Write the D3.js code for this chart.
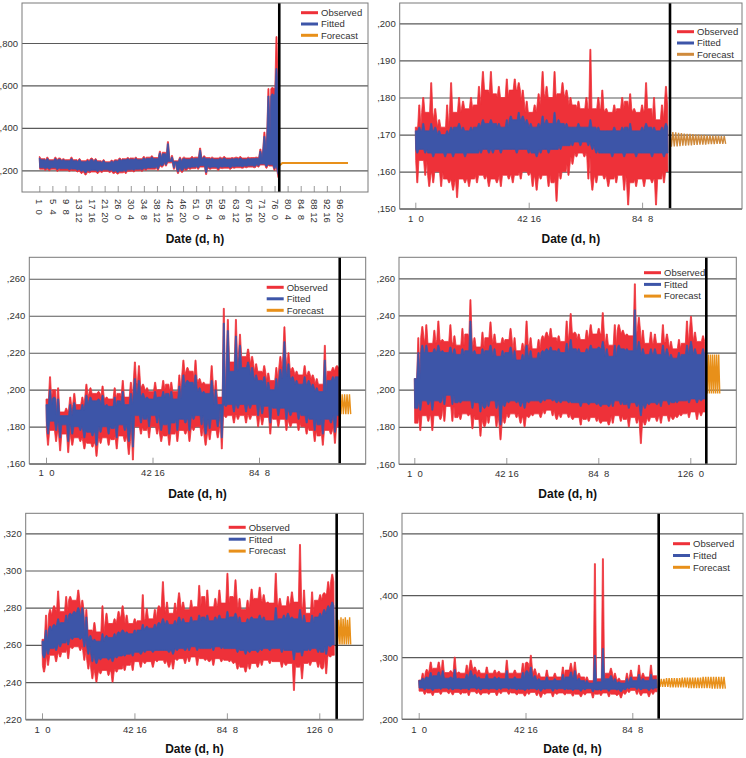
<!DOCTYPE html>
<html><head><meta charset="utf-8">
<script src="https://cdn.jsdelivr.net/npm/d3@7"></script>
<style>
body{margin:0;background:#fff}
svg{display:block}
text{font-family:"Liberation Sans",Arial,sans-serif}
</style>
</head><body>
<svg id="chart" width="746" height="758"></svg>
<script>
// ---------------- DATA ----------------
const seriesNames = ["Observed", "Fitted", "Forecast"];

// Panel 1 (envelope of the hourly series, per bin: high / low)
const p1ObsHi = [.265,.255,.262,.250,.262,.258,.255,.250,.262,.250, .255,.245,.252,.258,.255,.245,.250,.240,.248,.250, .258,.255,.260,.258,.262,.255,.265,.262,.268,.260, .290,.285,.335,.270,.245,.262,.262,.258,.265,.262, .305,.268,.260,.262,.258,.262,.265,.258,.260,.262, .265,.258,.262,.260,.262,.300,.380,.585,.590,.830];
const p1ObsLo = [.205,.200,.198,.205,.195,.200,.200,.195,.198,.192, .185,.178,.188,.192,.185,.190,.195,.190,.185,.182, .188,.185,.195,.192,.198,.195,.200,.205,.205,.200, .215,.220,.235,.205,.185,.190,.200,.205,.208,.205, .215,.180,.205,.208,.200,.208,.210,.205,.210,.212, .210,.212,.215,.212,.215,.225,.210,.220,.200,.165];
const p1FitHi = [.258,.250,.255,.245,.255,.252,.250,.245,.255,.245, .250,.240,.246,.252,.250,.240,.245,.236,.243,.245, .252,.250,.254,.252,.256,.250,.258,.256,.262,.255, .282,.278,.325,.262,.240,.256,.255,.252,.258,.256, .295,.262,.255,.256,.252,.256,.258,.252,.255,.256, .258,.252,.256,.255,.257,.290,.360,.550,.560,.680];
const p1FitLo = [.212,.208,.206,.212,.204,.208,.208,.203,.206,.200, .195,.188,.196,.200,.194,.198,.202,.198,.194,.190, .196,.194,.202,.200,.205,.202,.207,.211,.212,.207, .222,.226,.242,.212,.193,.198,.207,.212,.215,.212, .222,.190,.212,.215,.208,.215,.217,.212,.217,.219, .217,.219,.221,.219,.221,.230,.218,.226,.208,.180];
const p1Fc = [.222,.234,.234,.234,.234,.234,.234,.234,.234,.234,.234,.234,.234,.234,.234,.234,.234,.234,.234,.234,.234,.234,.234];
const p1Hours = {obsEnd: 1830, split: 1836, fcEnd: 2362};
const p1TickHours = [0,100,200,300,400,500,600,700,800,900,1000,1100,1200,1300,1400,1500,1600,1700,1800,1900,2000,2100,2200,2300];
const p1TickLabels = ["1  0","5  4","9  8","13 12","17 16","21 20","26  0","30  4","34  8","38 12","42 16","46 20","51  0","55  4","59  8","63 12","67 16","71 20","76  0","80  4","84  8","88 12","92 16","96 20"];
const p1YTicks = [.2,.4,.6,.8];

// Panel 2
const p2ObsHi = [.172,.178,.180,.176,.184,.177,.174,.172, .178,.184,.176,.180,.179,.177,.180,.178, .183,.187,.182,.187,.181,.183,.180,.185, .182,.185,.184,.182,.179,.176,.178,.181, .187,.183,.180,.187,.181,.184,.182,.180, .178,.179,.177,.180,.193,.177,.180,.182, .177,.176,.178,.177,.180,.179,.181,.177, .176,.178,.184,.177,.180,.174,.178,.183];
const p2ObsLo = [.157,.163,.159,.156,.157,.160,.156,.158, .157,.155,.153,.158,.157,.156,.158,.157, .159,.158,.156,.158,.157,.156,.159,.158, .157,.159,.158,.160,.159,.156,.155,.158, .159,.156,.157,.152,.158,.160,.159,.162, .164,.165,.164,.158,.155,.157,.159,.158, .156,.158,.157,.159,.155,.151,.157,.156, .158,.156,.158,.157,.151,.158,.157,.160];
const p2FitHi = [.171,.172,.173,.171,.173,.172,.171,.170, .171,.172,.172,.173,.172,.171,.172,.172, .173,.174,.173,.174,.173,.173,.172,.174, .175,.174,.176,.175,.174,.173,.172,.173, .175,.174,.173,.176,.174,.173,.173,.172, .172,.173,.172,.172,.174,.172,.172,.171, .171,.171,.172,.171,.172,.172,.173,.171, .171,.172,.173,.172,.172,.171,.172,.173];
const p2FitLo = [.165,.166,.165,.165,.164,.165,.165,.164, .165,.164,.165,.165,.164,.165,.165,.165, .165,.166,.165,.165,.166,.165,.166,.166, .166,.165,.166,.166,.165,.165,.164,.165, .166,.165,.166,.166,.166,.167,.167,.167, .168,.167,.168,.167,.166,.165,.165,.165, .165,.164,.165,.165,.164,.165,.165,.164, .165,.165,.165,.164,.165,.165,.164,.165];
const p2FcHi = [.1708,.1707,.1706,.1705,.1704,.1703,.1702,.1702,.1701,.1700,.1700,.1699,.1699,.1698,.1698,.1697,.1697,.1697,.1696,.1696];
const p2FcLo = [.1667,.1668,.1668,.1669,.1670,.1670,.1671,.1671,.1672,.1672,.1673,.1673,.1673,.1674,.1674,.1674,.1675,.1675,.1675,.1675];
const p2Hours = {obsEnd: 2228, split: 2246, fcEnd: 2737};
const p2TickHours = [0,1000,2000];
const p2TickLabels = ["1  0","42 16","84  8"];
const p2YTicks = [.15,.16,.17,.18,.19,.20];

// Panel 3
const p3ObsHi = [.195,.207,.200,.201,.188,.190,.196,.198,.192,.196, .203,.201,.198,.199,.202,.196,.195,.201,.198,.205, .196,.204,.215,.213,.203,.201,.199,.204,.200,.205, .203,.204,.199,.208,.216,.212,.210,.216,.206,.204, .203,.213,.205,.196,.244,.238,.215,.238,.230,.218, .222,.218,.214,.210,.213,.209,.205,.212,.218,.234, .220,.212,.210,.208,.213,.210,.208,.206,.203,.224, .210,.212,.213];
const p3ObsLo = [.170,.178,.172,.167,.176,.166,.170,.174,.172,.168, .171,.169,.164,.171,.174,.170,.173,.168,.175,.172, .165,.162,.180,.176,.178,.174,.180,.176,.172,.175, .170,.176,.172,.178,.176,.172,.178,.180,.175,.170, .173,.178,.174,.168,.185,.186,.182,.184,.186,.182, .184,.186,.180,.181,.185,.176,.184,.180,.184,.178, .180,.182,.178,.180,.176,.178,.172,.175,.170,.178, .176,.171,.180];
const p3FitHi = [.192,.200,.196,.195,.186,.186,.192,.193,.189,.192, .197,.196,.194,.195,.197,.192,.191,.196,.194,.199, .192,.198,.206,.205,.198,.196,.195,.199,.196,.199, .198,.199,.195,.202,.208,.205,.204,.208,.201,.199, .198,.205,.200,.192,.236,.232,.210,.229,.224,.212, .215,.212,.208,.205,.207,.204,.200,.206,.211,.226, .214,.207,.205,.203,.207,.205,.203,.201,.199,.216, .205,.207,.207];
const p3FitLo = [.176,.183,.178,.174,.181,.172,.176,.180,.178,.174, .177,.175,.170,.177,.180,.176,.179,.174,.181,.178, .172,.169,.186,.182,.184,.180,.186,.182,.178,.181, .176,.182,.178,.184,.182,.178,.184,.186,.181,.176, .179,.184,.180,.174,.191,.192,.188,.190,.192,.188, .190,.192,.186,.187,.191,.182,.190,.186,.190,.184, .186,.188,.184,.186,.182,.184,.178,.181,.176,.184, .182,.177,.186];
const p3FcHi = [.1975,.1975,.1975,.1975,.1975];
const p3FcLo = [.1868,.1868,.1868,.1868,.1868];
const p3Hours = {obsEnd: 2751, split: 2758, fcEnd: 2861};
const p3TickHours = [0,1000,2000];
const p3TickLabels = ["1  0","42 16","84  8"];
const p3YTicks = [.16,.18,.20,.22,.24,.26];

// Panel 4
const p4ObsHi = [.206,.228,.234,.235,.225,.232,.237,.227,.226,.235, .229,.224,.233,.230,.2485,.228,.223,.231,.228,.2365, .230,.225,.228,.227,.233,.228,.221,.225,.237,.228, .222,.227,.229,.231,.233,.228,.229,.226,.237,.241, .231,.230,.227,.232,.235,.230,.233,.2415,.230,.224, .235,.235,.232,.230,.229,.257,.239,.232,.225,.231, .230,.225,.235,.230,.226,.222,.227,.225,.237,.2395, .231,.226,.229];
const p4ObsLo = [.182,.178,.186,.183,.178,.186,.184,.183,.191,.183, .185,.184,.187,.186,.179,.184,.175,.180,.182,.186, .180,.173,.182,.185,.187,.185,.182,.180,.185,.186, .187,.185,.187,.189,.186,.184,.185,.187,.185,.184, .185,.181,.184,.183,.185,.183,.182,.183,.181,.182, .186,.183,.184,.180,.185,.182,.171,.181,.183,.185, .183,.182,.186,.183,.184,.185,.186,.187,.185,.188, .184,.186,.188];
const p4FitHi = [.206,.220,.224,.224,.220,.222,.224,.221,.220,.223, .222,.219,.222,.221,.237,.221,.219,.222,.221,.224, .222,.218,.221,.220,.223,.221,.216,.219,.224,.221, .217,.220,.221,.222,.223,.221,.222,.220,.225,.227, .222,.222,.220,.222,.224,.222,.223,.226,.222,.218, .224,.224,.222,.222,.221,.243,.226,.222,.219,.222, .222,.219,.224,.222,.219,.217,.220,.219,.224,.226, .222,.219,.222];
const p4FitLo = [.190,.189,.194,.192,.189,.194,.193,.192,.197,.192, .193,.193,.194,.194,.190,.193,.188,.190,.191,.194, .190,.181,.191,.193,.194,.193,.191,.190,.193,.194, .194,.193,.194,.195,.194,.193,.193,.194,.193,.193, .193,.191,.193,.192,.193,.192,.191,.192,.191,.191, .194,.192,.192,.190,.193,.191,.186,.190,.192,.193, .192,.191,.194,.192,.193,.193,.194,.194,.193,.195, .193,.194,.195];
const p4FcHi = [.219,.219,.219,.219,.219,.219,.219];
const p4FcLo = [.198,.198,.198,.198,.198,.198,.198];
const p4Hours = {obsEnd: 3160, split: 3174, fcEnd: 3320};
const p4TickHours = [0,1000,2000,3000];
const p4TickLabels = ["1  0","42 16","84  8","126  0"];
const p4YTicks = [.16,.18,.20,.22,.24,.26];

// Panel 5
const p5ObsHi = [.263,.276,.279,.281,.289,.278,.286,.286,.284,.2895, .284,.279,.268,.272,.267,.281,.277,.2715,.274,.278, .281,.276,.2715,.274,.273,.287,.2795,.274,.279,.281, .294,.283,.277,.2825,.288,.283,.279,.284,.2805,.292, .286,.2895,.2805,.285,.2895,.2825,.2985,.286,.295,.285, .279,.284,.290,.285,.291,.287,.283,.2825,.2985,.285, .281,.286,.2885,.283,.314,.2895,.277,.2885,.284,.287, .288,.294,.298];
const p5ObsLo = [.2454,.249,.2544,.251,.2535,.256,.2526,.258,.259,.257, .2517,.247,.2418,.240,.2445,.2463,.2436,.240,.2454,.247, .2463,.249,.2463,.251,.248,.250,.251,.248,.251,.2517, .250,.248,.247,.2517,.2526,.250,.251,.2535,.249,.2526, .2517,.251,.249,.2526,.251,.2517,.251,.250,.247,.248, .2454,.247,.250,.248,.249,.2517,.250,.251,.251,.248, .249,.250,.2355,.248,.2418,.250,.249,.251,.248,.247, .2445,.2535,.2544];
const p5FitHi = [.262,.268,.270,.271,.274,.272,.276,.277,.278,.280, .280,.275,.265,.263,.262,.266,.265,.264,.266,.267, .268,.267,.266,.268,.268,.271,.270,.269,.271,.272, .274,.273,.271,.273,.275,.274,.272,.275,.273,.276, .275,.276,.273,.275,.276,.274,.278,.275,.277,.275, .272,.274,.275,.274,.276,.275,.273,.273,.280,.274, .276,.277,.275,.274,.279,.276,.272,.276,.275,.277, .279,.281,.283];
const p5FitLo = [.253,.255,.258,.257,.259,.261,.260,.263,.264,.263, .259,.255,.251,.250,.252,.253,.252,.251,.253,.254, .254,.255,.254,.256,.255,.256,.257,.256,.257,.257, .257,.256,.255,.257,.258,.257,.257,.259,.257,.258, .258,.258,.257,.259,.258,.258,.258,.258,.256,.257, .255,.256,.257,.256,.257,.258,.257,.258,.258,.256, .257,.257,.252,.256,.254,.257,.257,.258,.256,.256, .255,.259,.260];
const p5FcHi = [.2748,.2735,.2748,.2740,.2748,.2735,.2748];
const p5FcLo = [.2602,.2602,.2602,.2602,.2602,.2602,.2602];
const p5Hours = {obsEnd: 3162, split: 3188, fcEnd: 3340};
const p5TickHours = [0,1000,2000,3000];
const p5TickLabels = ["1  0","42 16","84  8","126  0"];
const p5YTicks = [.22,.24,.26,.28,.30,.32];

// Panel 6
const p6ObsHi = [.263,.274,.280,.292,.282,.292,.295,.275,.278,.300, .276,.274,.287,.295,.284,.279,.274,.284,.274,.279, .277,.274,.295,.274,.279,.274,.290,.292,.303,.281, .274,.268,.279,.268,.274,.268,.284,.279,.290,.292, .274,.268,.268,.262,.451,.265,.459,.274,.282,.274, .266,.262,.274,.279,.268,.287,.274,.268,.287,.270];
const p6ObsLo = [.245,.240,.242,.238,.243,.240,.244,.241,.239,.243, .240,.242,.238,.244,.241,.239,.242,.240,.243,.238, .241,.244,.240,.242,.239,.241,.237,.240,.243,.238, .235,.240,.242,.236,.240,.242,.239,.241,.237,.240, .236,.239,.242,.234,.240,.238,.242,.236,.240,.238, .234,.240,.243,.246,.240,.238,.242,.236,.240,.244];
const p6FitHi = [.262,.266,.268,.275,.270,.276,.278,.266,.268,.280, .266,.265,.272,.278,.272,.268,.265,.272,.265,.268, .267,.265,.278,.265,.268,.265,.275,.278,.284,.270, .265,.262,.268,.262,.265,.262,.272,.268,.276,.278, .266,.262,.262,.258,.303,.260,.314,.265,.270,.265, .260,.258,.265,.268,.262,.272,.265,.262,.272,.264];
const p6FitLo = [.250,.247,.249,.246,.249,.248,.250,.248,.247,.249, .248,.249,.247,.250,.248,.247,.249,.248,.249,.247, .248,.250,.248,.249,.247,.248,.246,.248,.249,.247, .245,.248,.249,.245,.248,.249,.247,.248,.246,.248, .245,.247,.249,.244,.247,.246,.248,.245,.248,.247, .244,.247,.249,.251,.248,.247,.249,.246,.248,.250];
const p6FcHi = [.265,.265,.265,.266,.266,.266,.266,.266,.266,.267,.267,.267,.267,.267,.267,.267,.267,.268,.268,.268,.268,.268,.268,.268,.268,.268];
const p6FcLo = [.252,.252,.252,.252,.251,.251,.251,.251,.251,.251,.251,.250,.250,.250,.250,.250,.250,.250,.250,.250,.249,.249,.249,.249,.249,.249];
const p6Hours = {obsEnd: 2231, split: 2247, fcEnd: 2871};
const p6TickHours = [0,1000,2000];
const p6TickLabels = ["1  0","42 16","84  8"];
const p6YTicks = [.20,.30,.40,.50];

// ---------------- LAYOUT / STYLE ----------------
const COLORS = {Observed: "#ee3139", Fitted: "#3d55a8", Forecast: "#e8901a"};
const panels = [
  {x0:22, x1:368, y0:3, y1:192, hOrigin:39.3, pxPerH:0.1307, yDom:[0.0977,0.9885],
   obsHi:p1ObsHi, obsLo:p1ObsLo, fitHi:p1FitHi, fitLo:p1FitLo, fc:p1Fc, hours:p1Hours,
   ticks:p1TickHours, labels:p1TickLabels, yTicks:p1YTicks, rotate:true, titleY:243,
   legend:{x:301, y:12.7, dy:11.3}},
  {x0:399.7, x1:742, y0:3, y1:208.7, hOrigin:415.3, pxPerH:0.1134, yDom:[0.15,0.2055],
   obsHi:p2ObsHi, obsLo:p2ObsLo, fitHi:p2FitHi, fitLo:p2FitLo, fcHi:p2FcHi, fcLo:p2FcLo, hours:p2Hours,
   ticks:p2TickHours, labels:p2TickLabels, yTicks:p2YTicks, labelBase:222, titleY:243, fcColor:"#cf8a3c",
   legend:{x:677, y:31.7, dy:11.3}},
  {x0:29.3, x1:365.7, y0:257.3, y1:463.7, hOrigin:46, pxPerH:0.1065, yDom:[0.16,0.2716],
   obsHi:p3ObsHi, obsLo:p3ObsLo, fitHi:p3FitHi, fitLo:p3FitLo, fcHi:p3FcHi, fcLo:p3FcLo, hours:p3Hours,
   ticks:p3TickHours, labels:p3TickLabels, yTicks:p3YTicks, labelBase:476, titleY:498,
   legend:{x:266.7, y:287.3, dy:11.5}},
  {x0:399, x1:736.3, y0:257.3, y1:464, hOrigin:414.3, pxPerH:0.092, yDom:[0.16,0.2713],
   obsHi:p4ObsHi, obsLo:p4ObsLo, fitHi:p4FitHi, fitLo:p4FitLo, fcHi:p4FcHi, fcLo:p4FcLo, hours:p4Hours,
   ticks:p4TickHours, labels:p4TickLabels, yTicks:p4YTicks, labelBase:476.5, titleY:498,
   legend:{x:644, y:272.7, dy:11.7}},
  {x0:25.7, x1:363.3, y0:513.3, y1:719.3, hOrigin:42, pxPerH:0.09243, yDom:[0.22,0.33075],
   obsHi:p5ObsHi, obsLo:p5ObsLo, fitHi:p5FitHi, fitLo:p5FitLo, fcHi:p5FcHi, fcLo:p5FcLo, hours:p5Hours,
   ticks:p5TickHours, labels:p5TickLabels, yTicks:p5YTicks, labelBase:733, titleY:752.5,
   legend:{x:228.7, y:527.3, dy:11.9}},
  {x0:402, x1:743, y0:513.3, y1:719, hOrigin:418.7, pxPerH:0.1068, yDom:[0.2,0.5323],
   obsHi:p6ObsHi, obsLo:p6ObsLo, fitHi:p6FitHi, fitLo:p6FitLo, fcHi:p6FcHi, fcLo:p6FcLo, hours:p6Hours,
   ticks:p6TickHours, labels:p6TickLabels, yTicks:p6YTicks, labelBase:733, titleY:753,
   legend:{x:673, y:543.7, dy:11.8}}
];

const svg = d3.select("#chart");
const fmtY = v => "," + d3.format(".3f")(v).split(".")[1];

// zigzag through bin highs (bin start) and lows (bin middle) - used for forecasts
function zig(hi, lo, t0, t1) {
  const n = Math.min(hi.length, lo.length);
  const w = (t1 - t0) / (n - 0.5);
  const pts = [];
  for (let i = 0; i < n; i++) {
    pts.push([t0 + i * w, hi[i]]);
    pts.push([t0 + (i + 0.5) * w, lo[i]]);
  }
  return pts;
}
// closed band drawn as narrow spikes: each bin's high (low) rises from the
// lower (higher) of its neighbours, so the outline looks like dense hourly strokes
function spikyBand(hi, lo, t0, t1) {
  const n = Math.min(hi.length, lo.length);
  const w = (t1 - t0) / (n - 0.5);
  const up = [], dn = [];
  const clampT = t => Math.max(t0, Math.min(t1, t));
  const B = 0.4, T = 0.12;
  for (let i = 0; i < n; i++) {
    const a = i > 0 ? i - 1 : i, c = i < n - 1 ? i + 1 : i;
    const vu = Math.min(hi[a], hi[i], hi[c]);
    const tu = t0 + i * w;
    up.push([clampT(tu - B * w), vu], [clampT(tu - T * w), hi[i]],
            [clampT(tu + T * w), hi[i]], [clampT(tu + B * w), vu]);
    const vd = Math.max(lo[a], lo[i], lo[c]);
    const td = t0 + (i + 0.5) * w;
    dn.push([clampT(td - B * w), vd], [clampT(td - T * w), lo[i]],
            [clampT(td + T * w), lo[i]], [clampT(td + B * w), vd]);
  }
  return up.concat(dn.reverse());
}

panels.forEach((p, k) => {
  const g = svg.append("g");
  const x = d3.scaleLinear()
    .domain([(p.x0 - p.hOrigin) / p.pxPerH, (p.x1 - p.hOrigin) / p.pxPerH])
    .range([p.x0, p.x1]);
  const y = d3.scaleLinear().domain(p.yDom).range([p.y1, p.y0]);
  const W = p.x1 - p.x0;

  const clipId = "clip" + k;
  svg.append("clipPath").attr("id", clipId).append("rect")
    .attr("x", p.x0).attr("y", p.y0).attr("width", W).attr("height", p.y1 - p.y0);

  // gridlines
  const grid = g.append("g").attr("transform", `translate(${p.x0},0)`)
    .call(d3.axisLeft(y).tickValues(p.yTicks).tickSize(-W).tickFormat(""));
  grid.select(".domain").remove();
  grid.selectAll("line").attr("stroke", "#5a5a5a").attr("stroke-width", 1.2);

  // y tick labels
  const ya = g.append("g").attr("transform", `translate(${p.x0},0)`)
    .call(d3.axisLeft(y).tickValues(p.yTicks).tickSize(0).tickPadding(4).tickFormat(fmtY));
  ya.select(".domain").remove();
  ya.selectAll("text").attr("fill", "#333").style("font-size", "9.5px");

  // x axis (ticks inside, upward)
  const xa = g.append("g").attr("transform", `translate(0,${p.y1})`)
    .call(d3.axisBottom(x).tickValues(p.ticks).tickSizeInner(-6).tickSizeOuter(0)
      .tickFormat((d, i) => p.labels[i]));
  xa.select(".domain").remove();
  xa.selectAll("line").attr("stroke", "#9a9a9a").attr("stroke-width", 1);
  xa.selectAll("text").attr("fill", "#333").style("font-size", "9.5px").style("white-space", "pre");
  if (p.rotate) {
    xa.selectAll("text").attr("x", 0).attr("y", 0).attr("dy", "0.35em")
      .attr("transform", "translate(0,7) rotate(90)").style("text-anchor", "start");
  } else {
    xa.selectAll("text").attr("y", p.labelBase - p.y1).attr("dy", 0);
  }

  const plot = g.append("g").attr("clip-path", `url(#${clipId})`);
  const line = d3.line().x(d => x(d[0])).y(d => y(d[1]));

  [["Observed", p.obsHi, p.obsLo], ["Fitted", p.fitHi, p.fitLo]].forEach(([s, hi, lo]) => {
    plot.append("path").datum(spikyBand(hi, lo, 0, p.hours.obsEnd))
      .attr("d", d => line(d) + "Z").attr("fill", COLORS[s])
      .attr("stroke", COLORS[s]).attr("stroke-width", 0.8).attr("stroke-linejoin", "miter");
  });

  let fcPts;
  if (p.fc) {
    const step = (p.hours.fcEnd - p.hours.split) / (p.fc.length - 1);
    fcPts = p.fc.map((v, i) => [p.hours.split + i * step, v]);
  } else {
    fcPts = zig(p.fcHi, p.fcLo, p.hours.split, p.hours.fcEnd);
  }
  plot.append("path").datum(fcPts).attr("d", line).attr("fill", "none")
    .attr("stroke", p.fcColor || COLORS.Forecast).attr("stroke-width", p.fc ? 2 : 1.4);

  // split line
  g.append("line").attr("x1", x(p.hours.split)).attr("x2", x(p.hours.split))
    .attr("y1", p.y0).attr("y2", p.y1).attr("stroke", "#000").attr("stroke-width", 2.6);

  // frame
  g.append("rect").attr("x", p.x0).attr("y", p.y0).attr("width", W).attr("height", p.y1 - p.y0)
    .attr("fill", "none").attr("stroke", "#7a7a7a").attr("stroke-width", 1);

  // legend
  const lg = g.append("g");
  seriesNames.forEach((s, i) => {
    const ly = p.legend.y + i * p.legend.dy;
    lg.append("line").attr("x1", p.legend.x).attr("x2", p.legend.x + 17)
      .attr("y1", ly).attr("y2", ly).attr("stroke", s === "Forecast" && p.fcColor ? p.fcColor : COLORS[s])
      .attr("stroke-width", 3);
    lg.append("text").attr("x", p.legend.x + 20).attr("y", ly).attr("dy", "0.35em")
      .attr("fill", "#333").style("font-size", "9.5px").text(s);
  });

  // axis title
  g.append("text").attr("x", (p.x0 + p.x1) / 2).attr("y", p.titleY)
    .attr("text-anchor", "middle").style("font-size", "12px").style("font-weight", "bold")
    .attr("fill", "#111").text("Date (d, h)");
});
</script>
</body></html>
